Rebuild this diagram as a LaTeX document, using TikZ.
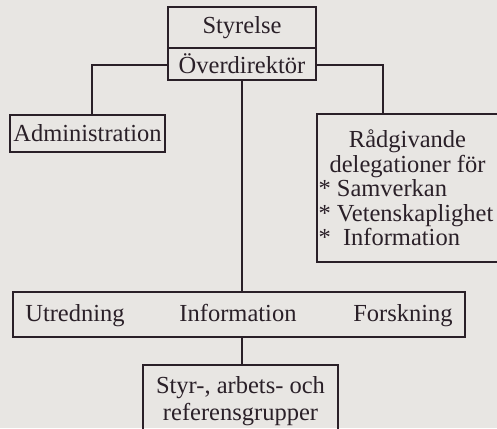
\documentclass[tikz,border=0pt]{standalone}
\usepackage{fontspec}
\setmainfont{Liberation Serif}
\definecolor{paper}{RGB}{232,230,227}
\definecolor{ink}{RGB}{42,32,40}
\begin{document}
\begin{tikzpicture}[x=1pt,y=-1pt,
  box/.style={draw=ink,line width=2.1pt,rectangle,inner sep=0pt,text=ink,
    font=\fontsize{24.5}{24.5}\selectfont},
  lbl/.style={inner sep=0pt,text=ink,anchor=base,font=\fontsize{24.5}{24.5}\selectfont},
  conn/.style={draw=ink,line width=2.1pt}]
\fill[paper] (0,0) rectangle (497,428);
\useasboundingbox (0,0) rectangle (497,428);
\clip (0,0) rectangle (497,428);
\node[box,minimum width=148pt,minimum height=41pt] (sty) at (242,27.5) {Styrelse};
\node[box,minimum width=148pt,minimum height=32pt] (ovd) at (242,64) {Överdirektör};
\node[box,minimum width=155pt,minimum height=37pt] (adm) at (87.5,133.5) {Administration};
\node[box,minimum width=181pt,minimum height=148pt] (rad) at (407.5,188)
  {\begin{minipage}{178pt}\centering Rådgivande\\ delegationer för\par\raggedright {*} Samverkan\\ {*} Vetenskaplighet\\ {*}\enspace Information\end{minipage}};
\node[box,minimum width=452pt,minimum height=45pt] (uif) at (239,314.5) {};
\node[lbl] (utr) at (75,321) {Utredning};
\node[lbl] (inf) at (238,321) {Information};
\node[lbl] (for) at (403,321) {Forskning};
\node[box,minimum width=195pt,minimum height=72pt,align=center,
  font=\fontsize{24.5}{27}\selectfont] (grp) at (240.5,401) {Styr-, arbets- och\\ referensgrupper};
\coordinate (lc) at (92,65);
\coordinate (rc) at (383,65);
\draw[conn] (ovd.west |- lc) -- (lc) -- (lc |- adm.north);
\draw[conn] (ovd.east |- rc) -- (rc) -- (rc |- rad.north);
\draw[conn] (ovd.south) -- (ovd.south |- uif.north);
\draw[conn] (ovd.south |- uif.south) -- (ovd.south |- grp.north);
\end{tikzpicture}
\end{document}
